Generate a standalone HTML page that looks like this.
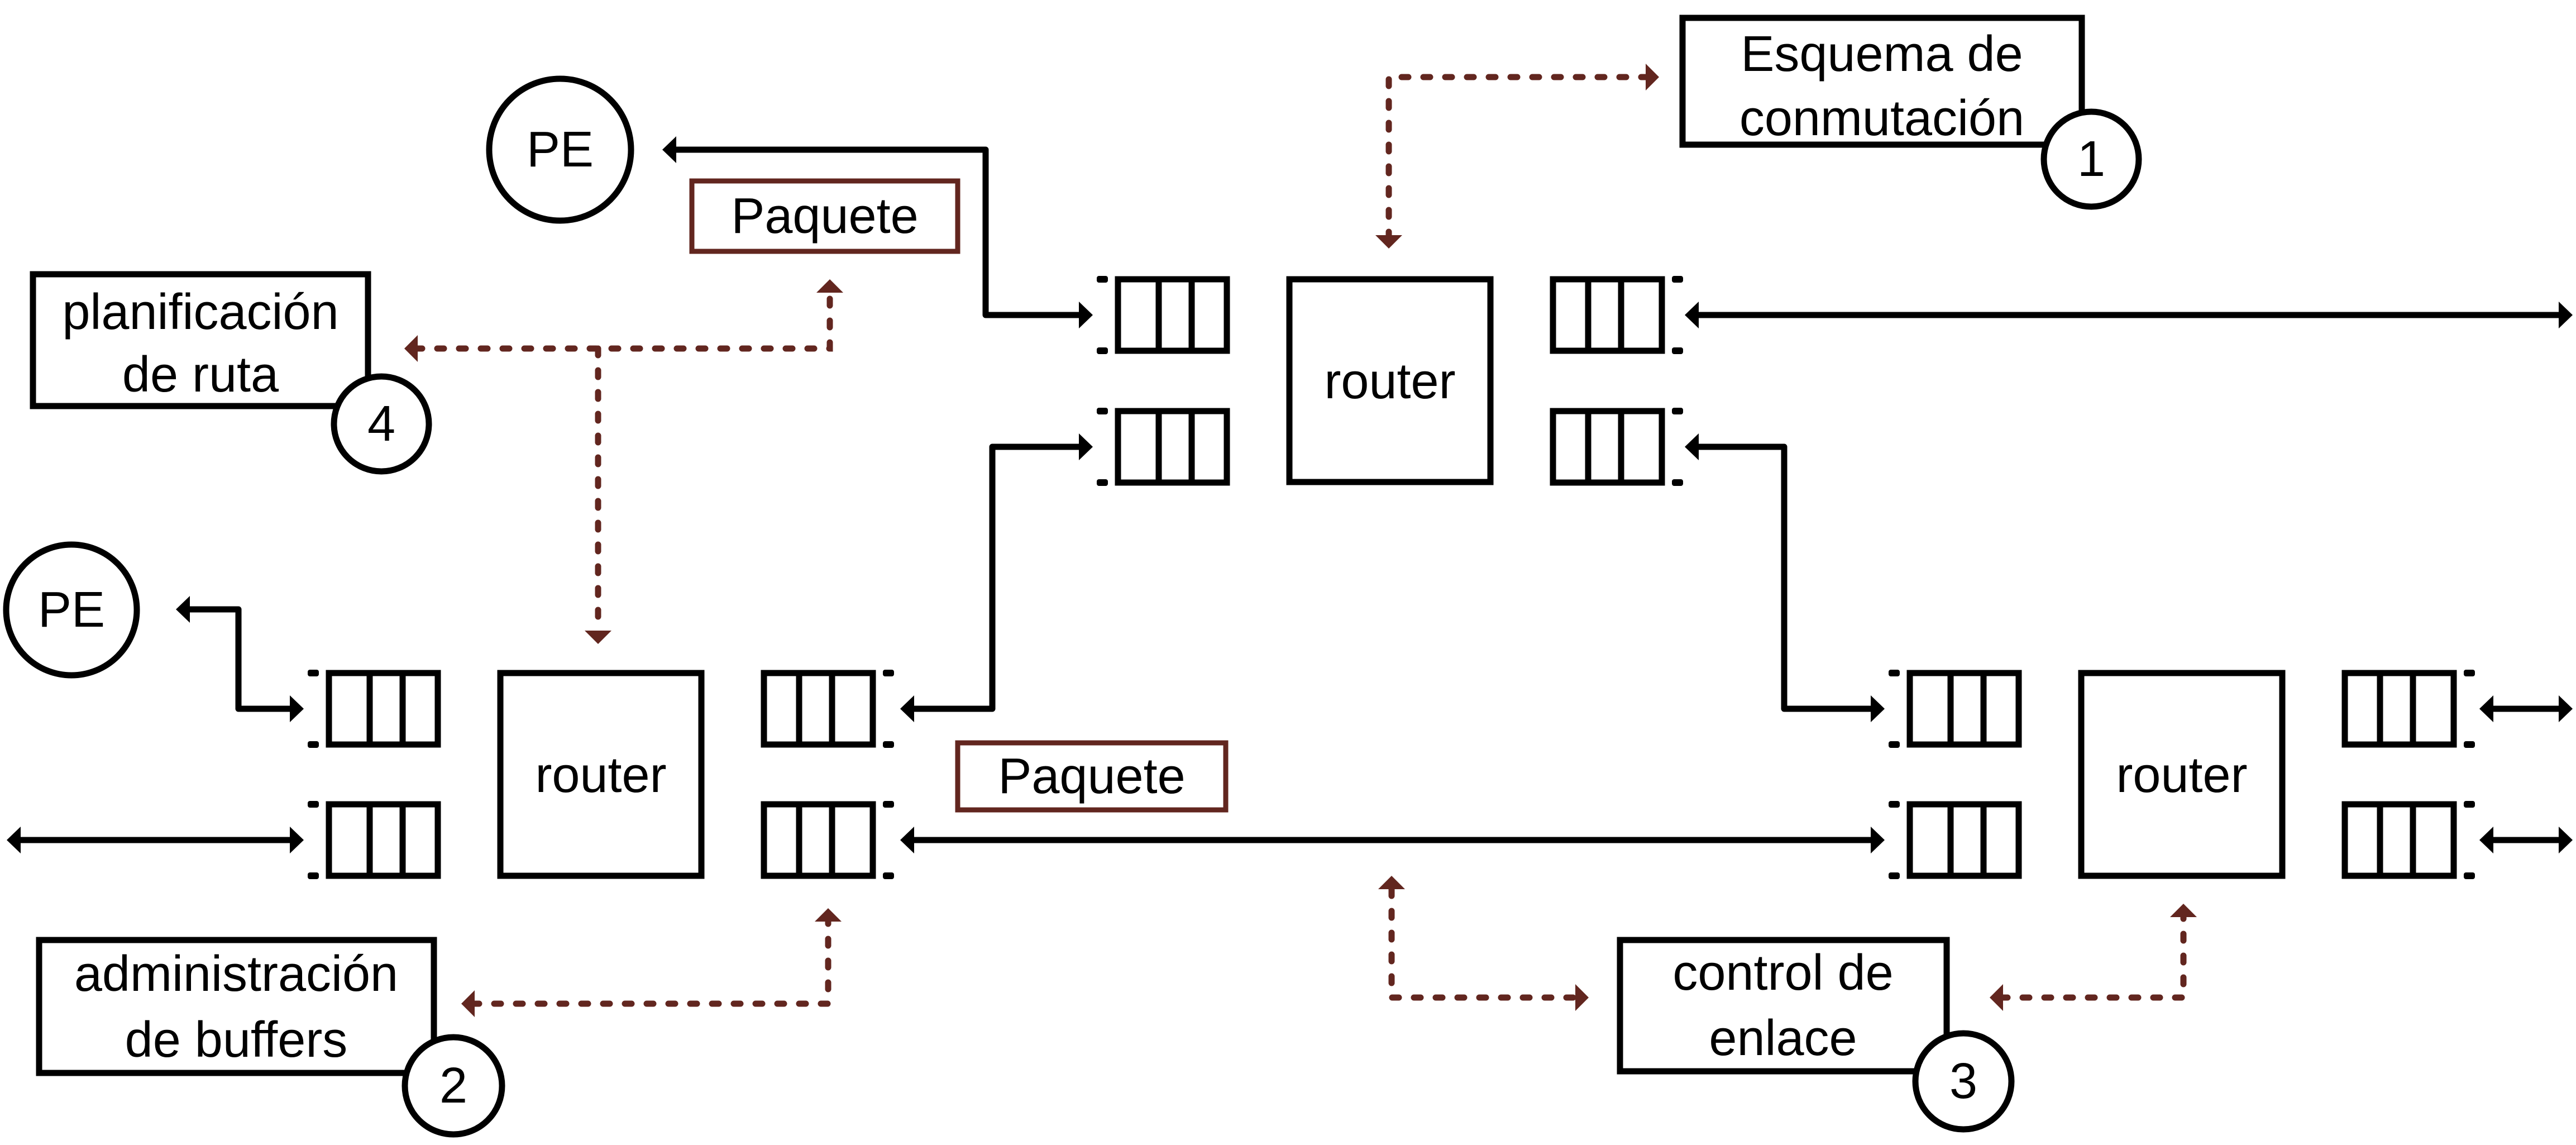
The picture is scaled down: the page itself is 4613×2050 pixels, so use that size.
<!DOCTYPE html>
<html><head><meta charset="utf-8"><style>
html,body{margin:0;padding:0;background:#fff;}
svg{display:block;}
text{font-family:"Liberation Sans",sans-serif;font-size:90px;fill:#000;}
</style></head><body>
<svg width="4613" height="2050" viewBox="0 0 4613 2050" xmlns="http://www.w3.org/2000/svg">
<defs>
<g id="qL">
 <rect x="0" y="0" width="195" height="128" fill="#fff" stroke="#000" stroke-width="11"/>
 <line x1="73" y1="0" x2="73" y2="128" stroke="#000" stroke-width="11"/>
 <line x1="132" y1="0" x2="132" y2="128" stroke="#000" stroke-width="11"/>
 <rect x="-38" y="-6" width="20" height="12" rx="4" fill="#000"/>
 <rect x="-38" y="122" width="20" height="12" rx="4" fill="#000"/>
</g>
<g id="qR">
 <rect x="0" y="0" width="195" height="128" fill="#fff" stroke="#000" stroke-width="11"/>
 <line x1="63" y1="0" x2="63" y2="128" stroke="#000" stroke-width="11"/>
 <line x1="122" y1="0" x2="122" y2="128" stroke="#000" stroke-width="11"/>
 <rect x="213" y="-6" width="20" height="12" rx="4" fill="#000"/>
 <rect x="213" y="122" width="20" height="12" rx="4" fill="#000"/>
</g>
</defs>

<!-- routers -->
<g stroke="#000" stroke-width="11" fill="#fff">
<rect x="2309" y="500" width="360" height="363"/>
<rect x="896" y="1205" width="360" height="363"/>
<rect x="3727" y="1205" width="360" height="363"/>
</g>
<text x="2489" y="683" text-anchor="middle" dominant-baseline="central">router</text>
<text x="1076" y="1388" text-anchor="middle" dominant-baseline="central">router</text>
<text x="3907" y="1388" text-anchor="middle" dominant-baseline="central">router</text>

<!-- queues -->
<use href="#qL" x="2002" y="500"/><use href="#qL" x="2002" y="736"/>
<use href="#qR" x="2781" y="500"/><use href="#qR" x="2781" y="736"/>
<use href="#qL" x="589" y="1205"/><use href="#qL" x="589" y="1440"/>
<use href="#qR" x="1368" y="1205"/><use href="#qR" x="1368" y="1440"/>
<use href="#qL" x="3420" y="1205"/><use href="#qL" x="3420" y="1440"/>
<use href="#qR" x="4199" y="1205"/><use href="#qR" x="4199" y="1440"/>

<!-- black connectors -->
<g stroke="#000" stroke-width="11" fill="none" stroke-linejoin="round">
<polyline points="1206,268 1765,268 1765,564 1937,564"/>
<polyline points="1632,1269 1777,1269 1777,800 1937,800"/>
<polyline points="3037,564 4587,564"/>
<polyline points="3037,800 3195,800 3195,1269 3355,1269"/>
<polyline points="335,1091 427,1091 427,1269 524,1269"/>
<polyline points="32,1504 524,1504"/>
<polyline points="1632,1504 3355,1504"/>
<polyline points="4460,1269 4587,1269"/>
<polyline points="4460,1504 4587,1504"/>
</g>
<g fill="#000">
<polygon points="1186,268 1211,244 1211,292"/>
<polygon points="1957,564 1932,540 1932,588"/>
<polygon points="1612,1269 1637,1245 1637,1293"/>
<polygon points="1957,800 1932,776 1932,824"/>
<polygon points="3017,564 3042,540 3042,588"/>
<polygon points="4607,564 4582,540 4582,588"/>
<polygon points="3017,800 3042,776 3042,824"/>
<polygon points="3375,1269 3350,1245 3350,1293"/>
<polygon points="315,1091 340,1067 340,1115"/>
<polygon points="544,1269 519,1245 519,1293"/>
<polygon points="12,1504 37,1480 37,1528"/>
<polygon points="544,1504 519,1480 519,1528"/>
<polygon points="1612,1504 1637,1480 1637,1528"/>
<polygon points="3375,1504 3350,1480 3350,1528"/>
<polygon points="4440,1269 4465,1245 4465,1293"/>
<polygon points="4607,1269 4582,1245 4582,1293"/>
<polygon points="4440,1504 4465,1480 4465,1528"/>
<polygon points="4607,1504 4582,1480 4582,1528"/>
</g>

<!-- brown dotted connectors -->
<g stroke="#62261f" stroke-width="11" fill="none" stroke-linecap="round" stroke-dasharray="12 27">
<polyline points="2951,138 2487,138 2487,421"/>
<polyline points="744,624 1486,624 1486,524"/>
<polyline points="1071,624 1071,1129"/>
<polyline points="846,1797 1483,1797 1483,1650"/>
<polyline points="2492,1592 2492,1786 2825,1786"/>
<polyline points="3583,1786 3910,1786 3910,1642"/>
</g>
<g fill="#62261f">
<polygon points="2971,138 2947,114 2947,162"/>
<polygon points="2487,445 2463,421 2511,421"/>
<polygon points="724,624 748,600 748,648"/>
<polygon points="1486,500 1462,524 1510,524"/>
<polygon points="1071,1153 1047,1129 1095,1129"/>
<polygon points="826,1797 850,1773 850,1821"/>
<polygon points="1483,1626 1459,1650 1507,1650"/>
<polygon points="2492,1568 2468,1592 2516,1592"/>
<polygon points="2845,1786 2821,1762 2821,1810"/>
<polygon points="3563,1786 3587,1762 3587,1810"/>
<polygon points="3910,1618 3886,1642 3934,1642"/>
</g>

<!-- PE circles -->
<g stroke="#000" stroke-width="11" fill="#fff">
<circle cx="1003" cy="268" r="127"/>
<circle cx="128" cy="1092" r="117"/>
</g>
<text x="1003" y="268" text-anchor="middle" dominant-baseline="central">PE</text>
<text x="128" y="1092" text-anchor="middle" dominant-baseline="central">PE</text>

<!-- Paquete boxes -->
<g stroke="#62261f" stroke-width="9" fill="#fff">
<rect x="1239" y="324" width="476" height="126"/>
<rect x="1715" y="1330" width="480" height="120"/>
</g>
<text x="1477" y="387" text-anchor="middle" dominant-baseline="central">Paquete</text>
<text x="1955" y="1390" text-anchor="middle" dominant-baseline="central">Paquete</text>

<!-- label boxes -->
<g stroke="#000" stroke-width="11" fill="#fff">
<rect x="3013" y="32" width="715" height="227"/>
<rect x="59" y="491" width="600" height="236"/>
<rect x="70" y="1683" width="707" height="238"/>
<rect x="2901" y="1683" width="585" height="235"/>
<circle cx="3745" cy="285" r="85"/>
<circle cx="683" cy="759" r="85"/>
<circle cx="812" cy="1944" r="87"/>
<circle cx="3516" cy="1936" r="86"/>
</g>
<g text-anchor="middle" dominant-baseline="central">
<text x="3370" y="97">Esquema de</text>
<text x="3370" y="212">conmutación</text>
<text x="359" y="559">planificación</text>
<text x="359" y="671">de ruta</text>
<text x="423" y="1744">administración</text>
<text x="423" y="1862">de buffers</text>
<text x="3193" y="1742">control de</text>
<text x="3193" y="1859">enlace</text>
<text x="3745" y="285">1</text>
<text x="683" y="759">4</text>
<text x="812" y="1944">2</text>
<text x="3516" y="1936">3</text>
</g>
</svg>
</body></html>
